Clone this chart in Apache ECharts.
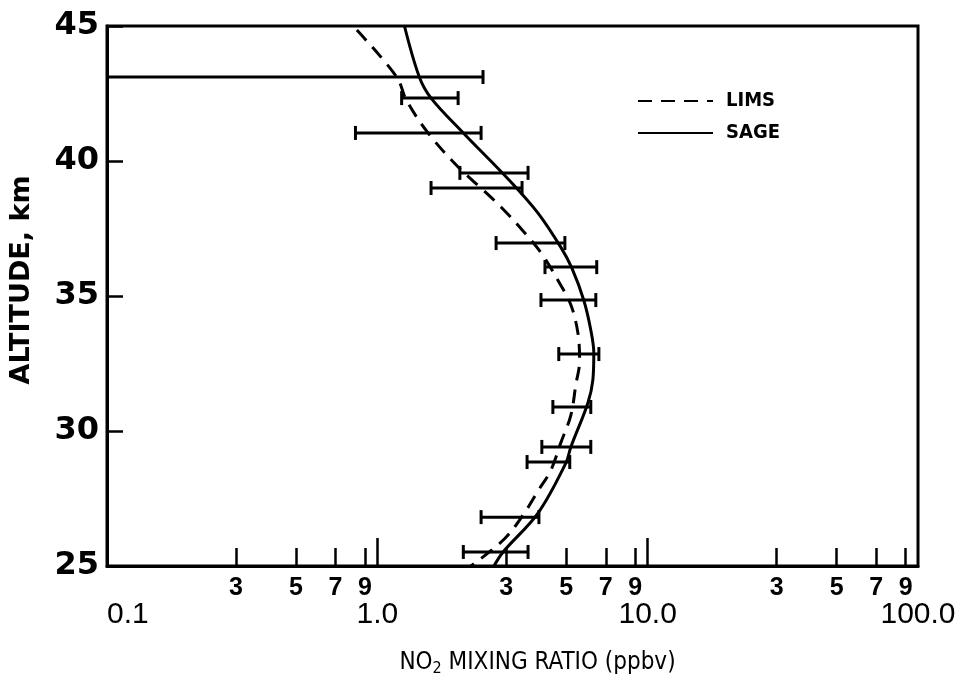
<!DOCTYPE html>
<html>
<head>
<meta charset="utf-8">
<script src="https://cdn.jsdelivr.net/npm/echarts@6/dist/echarts.min.js"></script>
<style>
html,body{margin:0;padding:0;background:#fff;}
#c{width:973px;height:688px;}
</style>
</head>
<body>
<div id="c"></div>
<script>
// SAGE profile: [mixing ratio ppbv, altitude km]
const sageCurve = [
  [1.26, 45.0], [1.43, 43.11], [1.58, 42.33], [2.08, 41.04], [3.07, 39.30],
  [3.93, 38.07], [4.77, 36.81], [5.24, 36.04], [5.80, 34.85], [6.16, 33.74],
  [6.32, 32.89], [6.27, 31.89], [6.01, 31.04], [5.20, 29.41], [4.98, 28.81],
  [3.93, 26.96], [2.92, 25.52], [2.70, 25.0]
];
// LIMS profile: [mixing ratio ppbv, altitude km]
const limsCurve = [
  [0.84, 44.85], [1.18, 43.11], [1.28, 42.26], [1.54, 41.04], [1.99, 39.78],
  [2.46, 38.93], [2.89, 38.26], [3.46, 37.41], [4.06, 36.56], [4.65, 35.59],
  [5.20, 34.67], [5.52, 33.63], [5.60, 32.60], [5.42, 31.70], [5.20, 30.59],
  [4.77, 29.56], [4.39, 28.56], [3.93, 27.78], [3.46, 26.89], [2.95, 26.0],
  [2.22, 25.0]
];
// Error bars: [low, high, altitude]
const errorBars = [
  [0.1, 2.46, 43.11], [1.23, 1.99, 42.33], [0.83, 2.42, 41.04], [2.02, 3.61, 39.56],
  [1.58, 3.43, 39.0], [2.75, 4.94, 36.96], [4.17, 6.48, 36.07], [4.03, 6.43, 34.85],
  [4.69, 6.60, 32.85], [4.46, 6.16, 30.89], [4.06, 6.16, 29.41], [3.58, 5.15, 28.85],
  [2.42, 3.96, 26.81], [2.08, 3.61, 25.52]
];
const minorTicks = [0.3, 0.5, 0.7, 0.9, 3, 5, 7, 9, 30, 50, 70, 90];
const decadeTicks = [1, 10];
const decadeLabels = [0.1, 1, 10, 100];
const decadeText = {'0.1': '0.1', '1': '1.0', '10': '10.0', '100': '100.0'};

const xFont = '"Liberation Sans", "DejaVu Sans", sans-serif';
const narrowFont = '"Liberation Sans Narrow", "DejaVu Sans Condensed", "Liberation Sans", sans-serif';
const yFont = '"DejaVu Sans", sans-serif';

const chart = echarts.init(document.getElementById('c'), null, {renderer: 'canvas'});
chart.setOption({
  backgroundColor: '#fff',
  animation: false,
  grid: {left: 105, right: 55, top: 26, bottom: 122, show: true, borderColor: '#000', borderWidth: 3},
  legend: {
    data: ['LIMS', 'SAGE'],
    orient: 'vertical',
    left: 632,
    top: 86,
    itemWidth: 75,
    itemHeight: 20,
    itemGap: 12,
    itemStyle: {opacity: 0},
    textStyle: {fontFamily: narrowFont, fontWeight: 'bold', fontSize: 20, color: '#000', padding: [0, 0, 0, 8]}
  },
  xAxis: [
    {
      type: 'log', logBase: 10, min: 0.1, max: 100, position: 'bottom',
      axisLine: {show: true, lineStyle: {color: '#000', width: 3}},
      axisTick: {show: true, inside: true, length: 18, customValues: minorTicks, lineStyle: {color: '#000', width: 2.5}},
      minorTick: {show: false},
      splitLine: {show: false},
      axisLabel: {
        customValues: minorTicks, margin: 10,
        formatter: v => String(v).replace('0.', '').replace(/0+$/, ''),
        fontFamily: xFont, fontWeight: 'bold', fontSize: 25, color: '#000'
      },
      name: '{a|NO}{s|2}{a| MIXING RATIO (ppbv)}',
      nameLocation: 'middle', nameGap: 83,
      nameTextStyle: {
        padding: [0, 0, 0, 50],
        rich: {
          a: {fontFamily: narrowFont, fontSize: 24, color: '#000'},
          s: {fontFamily: narrowFont, fontSize: 16, color: '#000', verticalAlign: 'bottom', padding: [12, 0, 0, 0]}
        }
      }
    },
    {
      type: 'log', logBase: 10, min: 0.1, max: 100, position: 'bottom',
      axisLine: {show: false},
      axisTick: {show: true, inside: true, length: 28, customValues: decadeTicks, lineStyle: {color: '#000', width: 2.5}},
      splitLine: {show: false},
      axisLabel: {
        customValues: decadeLabels, margin: 34,
        formatter: v => decadeText[String(+v)] || String(v),
        alignMinLabel: 'left',
        fontFamily: xFont, fontSize: 30, color: '#000'
      }
    }
  ],
  yAxis: {
    type: 'value', min: 25, max: 45, interval: 5,
    axisLine: {show: true, lineStyle: {color: '#000', width: 3}},
    axisTick: {show: true, inside: true, length: 16, lineStyle: {color: '#000', width: 2.5}},
    splitLine: {show: false},
    axisLabel: {margin: 8, fontFamily: yFont, fontWeight: 'bold', fontSize: 32, color: '#000'},
    name: 'ALTITUDE, km',
    nameLocation: 'middle', nameGap: 72, nameRotate: 90,
    nameTextStyle: {fontFamily: yFont, fontWeight: 'bold', fontSize: 27, color: '#000', padding: [0, 0, 0, 32]}
  },
  series: [
    {
      name: 'LIMS', type: 'line', smooth: 0.35, symbol: 'none', xAxisIndex: 0,
      data: limsCurve.map(d => [d[0], d[1]]),
      lineStyle: {color: '#000', width: 3, type: [14, 9]},
      itemStyle: {color: '#000'}
    },
    {
      name: 'SAGE', type: 'line', smooth: 0.35, symbol: 'none', xAxisIndex: 0,
      data: sageCurve.map(d => [d[0], d[1]]),
      lineStyle: {color: '#000', width: 3, type: 'solid'},
      itemStyle: {color: '#000'}
    },
    {
      name: 'err', type: 'custom', xAxisIndex: 0,
      data: errorBars,
      encode: {x: [0, 1], y: 2},
      renderItem: function (params, api) {
        const lo = api.coord([api.value(0), api.value(2)]);
        const hi = api.coord([api.value(1), api.value(2)]);
        const h = 7;
        const st = {stroke: '#000', lineWidth: 3};
        const children = [
          {type: 'line', shape: {x1: lo[0], y1: lo[1], x2: hi[0], y2: hi[1]}, style: st},
          {type: 'line', shape: {x1: hi[0], y1: hi[1] - h, x2: hi[0], y2: hi[1] + h}, style: st}
        ];
        if (api.value(0) > 0.1) {
          children.push({type: 'line', shape: {x1: lo[0], y1: lo[1] - h, x2: lo[0], y2: lo[1] + h}, style: st});
        }
        return {type: 'group', children: children};
      }
    }
  ]
});
</script>
</body>
</html>
